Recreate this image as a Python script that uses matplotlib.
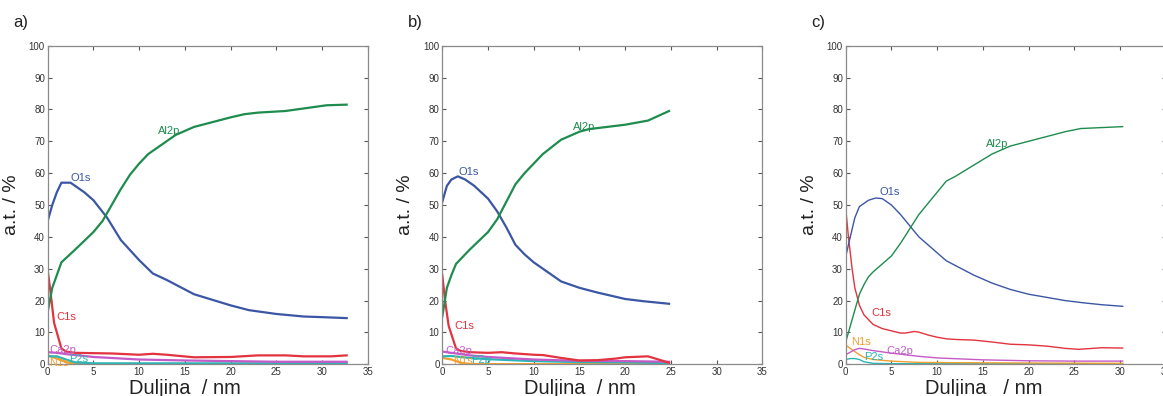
import matplotlib

matplotlib.use("Agg")
import matplotlib.pyplot as plt

plt.rcParams["font.family"] = ["Liberation Sans", "DejaVu Sans"]

# ---- panel a -------------------------------------------------------------
a_o1s_x = [0, 0.5, 1, 1.5, 2.5, 3, 4, 5, 6.5, 8, 10, 11.5, 13, 16, 20, 22, 25, 28, 30, 32.7]
a_o1s_y = [45, 50, 54, 57, 57, 56, 54, 51.5, 46, 39, 32.7, 28.5, 26.5, 22, 18.5, 17, 15.8, 15, 14.8, 14.5]
a_al2p_x = [0, 0.5, 1, 1.5, 3, 5, 6, 7, 8, 9, 10, 11, 12, 13, 14, 16, 18, 20, 21.5, 23, 26, 28, 30.5, 32.7]
a_al2p_y = [16.5, 24, 28, 32, 36, 41.5, 45, 50, 55, 59.5, 63, 66, 68, 70, 72, 74.5, 76, 77.5, 78.5, 79, 79.5, 80.3, 81.3, 81.5]
a_c1s_x = [0, 0.25, 0.7, 1.5, 2, 3, 5, 7, 10, 11.5, 13, 16, 20, 23, 26, 28, 31, 32.7]
a_c1s_y = [29.5, 24, 13, 5, 4, 3.6, 3.5, 3.4, 3, 3.3, 3, 2.2, 2.3, 2.8, 2.8, 2.5, 2.5, 2.8]
a_ca2p_x = [0, 1, 2, 5, 10, 15, 20, 25, 32.7]
a_ca2p_y = [3.8, 3.6, 3.2, 2.3, 1.5, 1.2, 1.0, 0.8, 0.8]
a_p2s_x = [0, 1, 2, 3, 5, 10, 20, 32.7]
a_p2s_y = [2.5, 2.5, 1.5, 0.6, 0.3, 0.3, 0.3, 0.3]
a_n1s_x = [0, 1, 2, 3, 5, 32.7]
a_n1s_y = [2.8, 1.8, 0.7, 0.1, 0.05, 0.05]

# ---- panel b -------------------------------------------------------------
b_o1s_x = [0, 0.5, 1, 1.7, 2.5, 3.5, 5, 6, 7, 8, 9, 10, 11, 13, 15, 17, 20, 22, 24.8]
b_o1s_y = [51, 56, 58, 59, 58, 56, 52, 48, 43, 37.5, 34.5, 32, 30, 26, 24, 22.5, 20.5, 19.8, 19]
b_al2p_x = [0, 0.5, 1, 1.5, 3, 5, 6, 7, 8, 9, 10, 11, 13, 15, 16, 18, 20, 22.5, 24.8]
b_al2p_y = [15, 24, 28, 31.5, 36, 41.5, 45.5, 51, 56.5, 60, 63, 66, 70.5, 73, 73.8, 74.5, 75.2, 76.5, 79.5]
b_c1s_x = [0, 0.3, 0.7, 1.5, 2, 3, 5, 6.5, 8, 10, 11, 13, 15, 17, 19, 20, 22.5, 24.8]
b_c1s_y = [28, 20, 12, 5, 4.2, 3.8, 3.6, 3.8, 3.4, 3.0, 2.9, 2.0, 1.2, 1.3, 1.8, 2.2, 2.5, 0.5]
b_ca2p_x = [0, 1, 2, 3, 5, 10, 15, 20, 24.8]
b_ca2p_y = [4, 3.6, 3.2, 2.8, 2.3, 1.5, 1.1, 1.0, 0.8]
b_p2p_x = [0, 1, 2, 3, 5, 10, 15, 20, 24.8]
b_p2p_y = [2.5, 2.6, 2.3, 2.0, 1.6, 1.0, 0.7, 0.6, 0.4]
b_n1s_x = [0, 1, 2, 3, 5, 24.8]
b_n1s_y = [2, 1.5, 0.5, 0.1, 0.05, 0.05]

# ---- panel c -------------------------------------------------------------
c_o1s_x = [0, 0.5, 1, 1.5, 2.5, 3.3, 4, 5, 6, 7, 8, 9, 10, 11, 12, 14, 16, 18, 20, 22, 24, 26, 28, 30.3]
c_o1s_y = [33.8, 40, 46, 49.5, 51.5, 52.2, 52, 50, 47, 43.5, 40, 37.5, 35, 32.5, 31, 28, 25.5, 23.5, 22, 21, 20, 19.3, 18.7, 18.2]
c_al2p_x = [0, 0.5, 1, 1.5, 2, 2.5, 3, 4, 5, 6, 7, 8, 9, 10, 11, 12, 14, 16, 18, 20, 22, 24, 25.7, 28, 30.3]
c_al2p_y = [7, 12, 17, 22, 25, 27.5, 29, 31.5, 34, 38, 42.5, 47, 50.5, 54, 57.5, 59, 62.5, 66, 68.5, 70, 71.5, 73, 74, 74.3, 74.6]
c_c1s_x = [0, 0.3, 0.7, 1, 1.5, 2, 3, 4, 5, 6, 6.5, 7.5, 8, 9, 10, 11, 12, 14, 16, 18, 20, 22, 24, 25.5, 27, 28, 30.3]
c_c1s_y = [49, 40, 30, 24, 18.5, 15.5, 12.5, 11.2, 10.5, 9.8, 9.8, 10.3, 10.1, 9.2, 8.5, 8.0, 7.8, 7.6, 7.0, 6.3, 6.1, 5.7, 5.0, 4.7, 5.0, 5.2, 5.1]
c_n1s_x = [0, 0.5, 1, 1.5, 2, 3, 5, 8, 12, 20, 30.3]
c_n1s_y = [6, 5, 4, 3, 2.2, 1.5, 1.0, 0.6, 0.5, 0.4, 0.3]
c_ca2p_x = [0, 0.5, 1, 1.5, 2, 3, 5, 8, 10, 15, 20, 25, 30.3]
c_ca2p_y = [3, 3.8, 4.6, 5.0, 4.8, 4.3, 3.5, 2.5, 2.0, 1.4, 1.1, 1.0, 1.0]
c_p2s_x = [0, 0.5, 1, 1.5, 2, 3, 5, 10, 20, 30.3]
c_p2s_y = [1.5, 1.8, 1.8, 1.5, 0.8, 0.3, 0.2, 0.2, 0.2, 0.2]

BLUE = "#3b56a4"
GREEN = "#1e8c4e"
RED = "#e2333f"
MAGENTA = "#c45ac8"
CYAN = "#2bb5b5"
ORANGE = "#f0a030"

panels = [
    {
        "tag": "a)", "left": 47.7, "lw": 1.6, "xlabel": "Duljina  / nm",
        "series": [
            (a_n1s_x, a_n1s_y, ORANGE, "N1s", 0.2, 0.4),
            (a_p2s_x, a_p2s_y, CYAN, "P2s", 2.3, 1.6),
            (a_ca2p_x, a_ca2p_y, MAGENTA, "Ca2p", 0.2, 4.5),
            (a_c1s_x, a_c1s_y, RED, "C1s", 1.0, 14.7),
            (a_o1s_x, a_o1s_y, BLUE, "O1s", 2.45, 58.4),
            (a_al2p_x, a_al2p_y, GREEN, "Al2p", 12.1, 73.3),
        ],
    },
    {
        "tag": "b)", "left": 442.3, "lw": 1.6, "xlabel": "Duljina  / nm",
        "series": [
            (b_n1s_x, b_n1s_y, ORANGE, "N1s", 1.2, 1.0),
            (b_p2p_x, b_p2p_y, CYAN, "P2p", 3.2, 1.4),
            (b_ca2p_x, b_ca2p_y, MAGENTA, "Ca2p", 0.36, 4.2),
            (b_c1s_x, b_c1s_y, RED, "C1s", 1.3, 12.0),
            (b_o1s_x, b_o1s_y, BLUE, "O1s", 1.75, 60.5),
            (b_al2p_x, b_al2p_y, GREEN, "Al2p", 14.25, 74.6),
        ],
    },
    {
        "tag": "c)", "left": 845.7, "lw": 1.0, "xlabel": "Duljina   / nm",
        "series": [
            (c_p2s_x, c_p2s_y, CYAN, "P2s", 2.0, 2.4),
            (c_n1s_x, c_n1s_y, ORANGE, "N1s", 0.58, 7.1),
            (c_ca2p_x, c_ca2p_y, MAGENTA, "Ca2p", 4.4, 4.2),
            (c_c1s_x, c_c1s_y, RED, "C1s", 2.85, 16.2),
            (c_o1s_x, c_o1s_y, BLUE, "O1s", 3.65, 54.2),
            (c_al2p_x, c_al2p_y, GREEN, "Al2p", 15.3, 69.1),
        ],
    },
]

W, H = 1163, 396
AX_W, AX_TOP, AX_BOT = 320, 45.7, 364.3
fig = plt.figure(figsize=(W / 100, H / 100), dpi=100)
fig.patch.set_facecolor("white")

for p in panels:
    ax = fig.add_axes([p["left"] / W, (H - AX_BOT) / H, AX_W / W, (AX_BOT - AX_TOP) / H])
    for xs, ys, color, name, lx, ly in p["series"]:
        ax.plot(xs, ys, color=color, lw=p["lw"], solid_joinstyle="round")
        ax.text(lx, ly, name, color=color, fontsize=8, ha="left", va="center")
    ax.set_xlim(0, 35)
    ax.set_ylim(0, 100)
    ax.set_xticks(range(0, 36, 5))
    ax.set_yticks(range(0, 101, 10))
    ax.tick_params(direction="in", top=True, right=True, length=3, width=0.8,
                   color="#555555", labelsize=7, labelcolor="#333333", pad=2)
    for s in ax.spines.values():
        s.set_color("#8a8a8a")
        s.set_linewidth(0.9)
    ax.set_ylabel("a.t. / %", fontsize=14, color="#222222")
    ax.yaxis.set_label_coords(-0.087, 0.5)
    ax.set_xlabel(p["xlabel"], fontsize=14.5, color="#222222", va="center")
    ax.xaxis.set_label_coords(0.43, -0.075)
    fig.text((p["left"] - 34) / W, 1 - 22 / H, p["tag"], fontsize=12,
             ha="left", va="center", color="#222222")

fig.savefig("out.png", dpi=100, facecolor="white")
